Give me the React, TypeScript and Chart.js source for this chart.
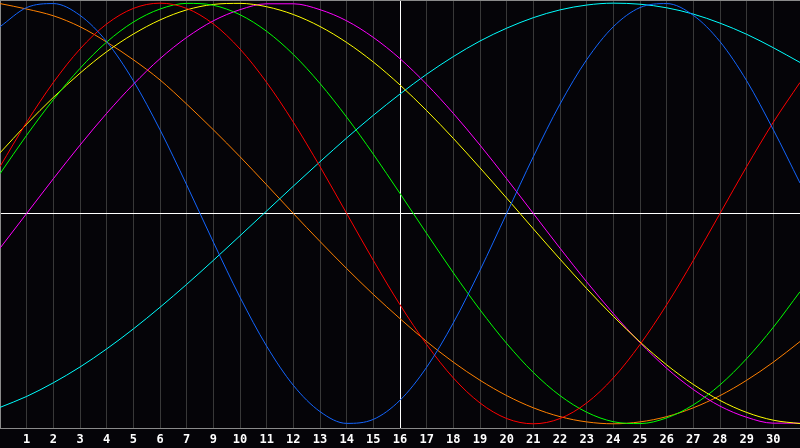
import { useEffect, useRef } from 'react';
import { Chart, registerables } from 'chart.js';

Chart.register(...registerables);

// day slots along the bottom (one per grid line)
const days = [
  0, 1, 2, 3, 4, 5, 6, 7, 8, 9, 10, 11, 12, 13, 14, 15,
  16, 17, 18, 19, 20, 21, 22, 23, 24, 25, 26, 27, 28, 29, 30,
];

// labels shown under grid lines 1..29 (note: "8" is not printed)
const dayLabels = [
  '1', '2', '3', '4', '5', '6', '7', '9', '10', '11', '12', '13', '14', '15',
  '16', '17', '18', '19', '20', '21', '22', '23', '24', '25', '26', '27', '28', '29', '30',
];

const todayIndex = 15;

const physical = [
  0.888, 0.979, 0.998, 0.942, 0.817, 0.631, 0.398, 0.136, -0.136, -0.398, -0.631, -0.817, -0.942, -0.998, -0.979, -0.888,
  -0.731, -0.52, -0.27, 0, 0.27, 0.52, 0.731, 0.888, 0.979, 0.998, 0.942, 0.817, 0.631, 0.398, 0.145,
];
const emotional = [
  0.223, 0.434, 0.623, 0.782, 0.901, 0.975, 1.0, 0.975, 0.901, 0.782, 0.623, 0.434, 0.223, 0, -0.223, -0.434,
  -0.623, -0.782, -0.901, -0.975, -1.0, -0.975, -0.901, -0.782, -0.623, -0.434, -0.223, 0, 0.223, 0.434, 0.623,
];
const intellectual = [
  0.189, 0.372, 0.541, 0.69, 0.815, 0.91, 0.972, 0.999, 0.99, 0.945, 0.866, 0.756, 0.618, 0.458, 0.282, 0.095,
  -0.095, -0.282, -0.458, -0.618, -0.756, -0.866, -0.945, -0.99, -0.999, -0.972, -0.91, -0.815, -0.69, -0.541, -0.372,
];
const aesthetic = [
  0.288, 0.425, 0.552, 0.667, 0.769, 0.853, 0.92, 0.968, 0.994, 0.999, 0.983, 0.946, 0.889, 0.813, 0.72, 0.611,
  0.489, 0.357, 0.217, 0.073, -0.073, -0.217, -0.357, -0.489, -0.611, -0.72, -0.813, -0.889, -0.946, -0.983, -0.999,
];
const intuitive = [
  -0.165, 0, 0.165, 0.325, 0.476, 0.614, 0.736, 0.837, 0.916, 0.969, 0.997, 0.997, 0.969, 0.916, 0.837, 0.736,
  0.614, 0.476, 0.325, 0.165, 0, -0.165, -0.325, -0.476, -0.614, -0.736, -0.837, -0.916, -0.969, -0.997, -0.997,
];
const spiritual = [
  -0.922, -0.87, -0.805, -0.73, -0.644, -0.549, -0.446, -0.337, -0.223, -0.106, 0.012, 0.13, 0.246, 0.359, 0.467, 0.568,
  0.662, 0.746, 0.82, 0.881, 0.931, 0.968, 0.991, 1.0, 0.995, 0.978, 0.948, 0.905, 0.852, 0.788, 0.718,
];
const awareness = [
  0.998, 0.972, 0.94, 0.888, 0.815, 0.731, 0.635, 0.52, 0.398, 0.27, 0.136, 0, -0.133, -0.262, -0.385, -0.5,
  -0.609, -0.707, -0.793, -0.866, -0.924, -0.966, -0.991, -1.0, -0.991, -0.966, -0.924, -0.866, -0.793, -0.707, -0.609,
];

const BG = '#050408';
const GRID = '#383838';
const FRAME = '#8a8a8a';

const App = () => {
  const canvasRef = useRef<HTMLCanvasElement | null>(null);
  const chartRef = useRef<Chart | null>(null);

  useEffect(() => {
    document.body.style.margin = '0';
    document.body.style.background = BG;
    if (!canvasRef.current) return;

    if (chartRef.current) chartRef.current.destroy();

    // top edge of the frame, the axes draw the other sides
    const frameTop = {
      id: 'frameTop',
      afterDraw(chart: Chart) {
        const { ctx, chartArea } = chart;
        ctx.save();
        ctx.strokeStyle = FRAME;
        ctx.lineWidth = 1;
        ctx.beginPath();
        ctx.moveTo(chartArea.left, chartArea.top + 0.5);
        ctx.lineTo(chartArea.right, chartArea.top + 0.5);
        ctx.stroke();
        ctx.restore();
      },
    };

    const line = (data: number[], color: string) => ({
      data,
      borderColor: color,
      borderWidth: 1,
      pointRadius: 0,
      pointHoverRadius: 0,
      cubicInterpolationMode: 'monotone' as const,
      capBezierPoints: false,
      fill: false,
    });

    chartRef.current = new Chart(canvasRef.current, {
      type: 'line',
      data: {
        labels: days.map(String),
        datasets: [
          line(physical, '#1466ff'),
          line(emotional, '#ff0000'),
          line(intellectual, '#00ff00'),
          line(aesthetic, '#ffff00'),
          line(intuitive, '#ff00ff'),
          line(spiritual, '#00ffff'),
          line(awareness, '#ff8000'),
        ],
      },
      options: {
        animation: false,
        responsive: true,
        maintainAspectRatio: false,
        layout: { padding: 0, autoPadding: false },
        plugins: {
          legend: { display: false },
          tooltip: { enabled: false },
        },
        scales: {
          x: {
            offset: false,
            grid: {
              offset: false,
              drawTicks: false,
              color: (c: any) => (c.index === todayIndex ? '#ffffff' : GRID),
            },
            border: { color: FRAME },
            ticks: {
              autoSkip: false,
              maxRotation: 0,
              padding: 5,
              color: '#ffffff',
              font: { family: 'DejaVu Sans Mono', size: 12, weight: 'bold' },
              callback: (_v: any, i: number) =>
                i >= 1 && i <= dayLabels.length ? dayLabels[i - 1] : '',
            },
            afterFit: (s: any) => {
              s.height = 20;
              s.paddingLeft = 0;
              s.paddingRight = 0;
            },
          },
          y: {
            min: -1.02,
            max: 1.015,
            grid: {
              drawTicks: false,
              color: (c: any) => (c.tick && c.tick.value === 0 ? '#ffffff' : 'transparent'),
            },
            border: { color: FRAME },
            ticks: { display: false },
            afterBuildTicks: (s: any) => {
              s.ticks = [{ value: 0 }];
            },
            afterFit: (s: any) => {
              s.width = 0;
              s.paddingTop = 0;
              s.paddingBottom = 0;
            },
          },
        },
      },
      plugins: [frameTop],
    });

    return () => {
      if (chartRef.current) {
        chartRef.current.destroy();
        chartRef.current = null;
      }
    };
  }, []);

  return (
    <div style={{ width: 800, height: 448, background: BG, position: 'relative' }}>
      <canvas ref={canvasRef}></canvas>
    </div>
  );
};

export default App;
